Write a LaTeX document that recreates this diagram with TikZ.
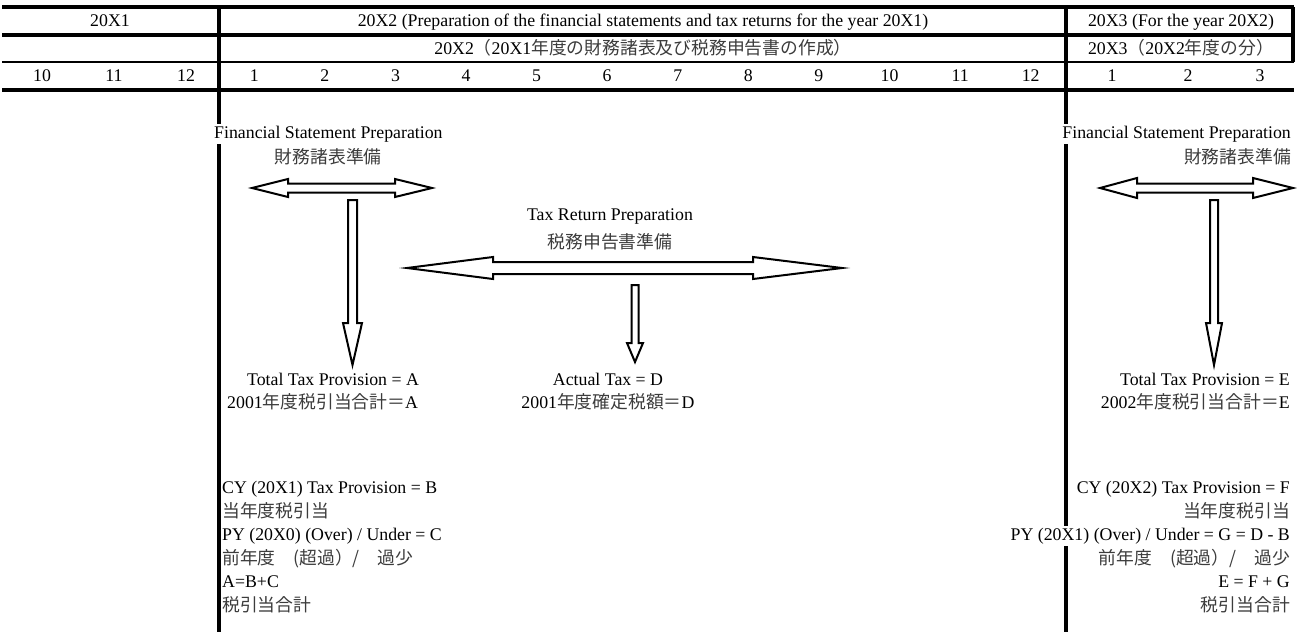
\documentclass[tikz,border=0pt]{standalone}
\usepackage{fontspec}
\setmainfont{Liberation Serif}
\newfontfamily\jpfont{Noto Sans CJK JP}
\usepackage{xcolor}
\definecolor{jpgray}{RGB}{60,60,60}
\newcommand{\jp}[1]{{\jpfont\color{jpgray}#1}}
\usetikzlibrary{positioning}
\tikzstyle{txt} = [inner xsep=1pt, inner ysep=2pt, text height=12.5pt, text depth=3.5pt]
\tikzstyle{cover} = [txt, fill=white]
\tikzstyle{Rule} = [line width=3.4pt]
\tikzstyle{Block} = [line width=2pt, fill=white, line join=miter]

\begin{document}
\begin{tikzpicture}[x=1pt, y=-1pt, font=\fontsize{17.8}{21}\selectfont]
    \useasboundingbox (0,0) rectangle (1297,632);

    \draw[Rule] (2,7) -- (1294,7);
    \draw[Rule] (2,35) -- (1294,35);
    \draw[Rule, line width=2.6pt] (2,62) -- (1294,62);
    \draw[Rule] (2,90) -- (1294,90);
    \draw[Rule] (1293,7) -- (1293,62);
    \draw[Rule] (219,7) -- (219,632);
    \draw[Rule] (1066,7) -- (1066,632);

    \node[txt] (y1) at (110,22) {20X1};
    \node[txt] (y2) at (643,22) {20X2 (Preparation of the financial statements and tax returns for the year 20X1)};
    \node[txt] (y3) at (1181,22) {20X3 (For the year 20X2)};
    \node[txt] (y2jp) at (643,50) {20X2\jp{（}20X1\jp{年度の財務諸表及び税務申告書の作成）}};
    \node[txt] (y3jp) at (1181,50) {20X3\jp{（}20X2\jp{年度の分）}};
    \foreach \m/\x in {10/42, 11/114, 12/186}
        \node[txt] (p\m) at (\x,77) {\m};
    \foreach \m in {1,...,12}
        \node[txt] (m\m) at ({219+70.58*(\m-0.5)},77) {\m};
    \foreach \m/\x in {1/1112, 2/1188, 3/1260}
        \node[txt] (n\m) at (\x,77) {\m};

    \node[cover, anchor=west] (fsL) at (213,134) {Financial Statement Preparation};
    \node[txt, below=25pt of fsL.center, anchor=center] (fsLjp) {\jp{財務諸表準備}};
    \node[cover, anchor=east] (fsR) at (1292,134) {Financial Statement Preparation};
    \node[txt, below=25pt of fsR.east, anchor=east] (fsRjp) {\jp{財務諸表準備}};
    \node[txt] (trp) at (610,216) {Tax Return Preparation};
    \node[txt, below=28pt of trp.center, anchor=center] (trpjp) {\jp{税務申告書準備}};

    \draw[Block] (252,188) -- (288,179) -- (288,183.5) -- (395,183.5) -- (395,179) -- (432,188)
        -- (395,197) -- (395,192.5) -- (288,192.5) -- (288,197) -- cycle;
    \draw[Block] (348,200) -- (357,200) -- (357,323) -- (362,323) -- (352.5,365) -- (343,323) -- (348,323) -- cycle;
    \draw[Block] (407,268) -- (493,257) -- (493,262) -- (753,262) -- (753,257) -- (842,268)
        -- (753,279) -- (753,274) -- (493,274) -- (493,279) -- cycle;
    \draw[Block] (631.5,285) -- (638.5,285) -- (638.5,343) -- (643,343) -- (635,362) -- (627,343) -- (631.5,343) -- cycle;
    \draw[Block] (1100,188) -- (1137,178) -- (1137,183.5) -- (1253,183.5) -- (1253,178) -- (1293,188)
        -- (1253,198) -- (1253,192.5) -- (1137,192.5) -- (1137,198) -- cycle;
    \draw[Block] (1210,200) -- (1218,200) -- (1218,323) -- (1222,323) -- (1214,365) -- (1206,323) -- (1210,323) -- cycle;

    \node[txt] (totA) at (333,381) {Total Tax Provision = A};
    \node[txt, anchor=west] (totAjp) at (226,404) {2001\jp{年度税引当合計＝}A};
    \node[txt] (act) at (608,381) {Actual Tax = D};
    \node[txt] (actjp) at (608,404) {2001\jp{年度確定税額＝}D};
    \node[txt, anchor=east] (totE) at (1291,381) {Total Tax Provision = E};
    \node[txt, below=23pt of totE.east, anchor=east] (totEjp) {2002\jp{年度税引当合計＝}E};

    \node[txt, anchor=west] (cyL) at (221,489) {CY (20X1) Tax Provision = B};
    \node[txt, below=23.5pt of cyL.west, anchor=west] (cyLjp) {\jp{当年度税引当}};
    \node[txt, below=23.5pt of cyLjp.west, anchor=west] (pyL) {PY (20X0) (Over) / Under = C};
    \node[txt, below=23.5pt of pyL.west, anchor=west] (pyLjp) {\jp{前年度　(超過）/　過少}};
    \node[txt, below=23.5pt of pyLjp.west, anchor=west] (sumL) {A=B+C};
    \node[txt, below=23.5pt of sumL.west, anchor=west] (sumLjp) {\jp{税引当合計}};

    \node[txt, anchor=east] (cyR) at (1291,489) {CY (20X2) Tax Provision = F};
    \node[txt, below=23.5pt of cyR.east, anchor=east] (cyRjp) {\jp{当年度税引当}};
    \node[cover, below=23.5pt of cyRjp.east, anchor=east] (pyR) {PY (20X1) (Over) / Under = G = D - B};
    \node[txt, below=23.5pt of pyR.east, anchor=east] (pyRjp) {\jp{前年度　(超過）/　過少}};
    \node[txt, below=23.5pt of pyRjp.east, anchor=east] (sumR) {E = F + G};
    \node[txt, below=23.5pt of sumR.east, anchor=east] (sumRjp) {\jp{税引当合計}};
\end{tikzpicture}
\end{document}
